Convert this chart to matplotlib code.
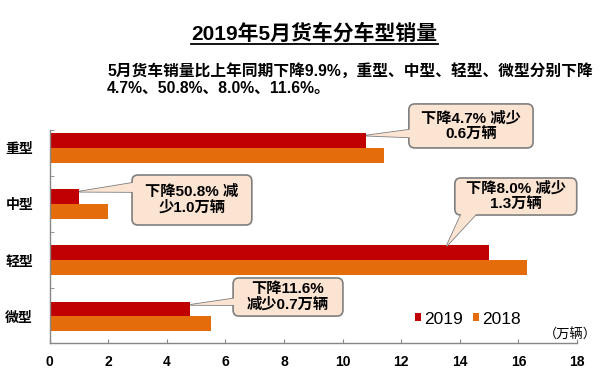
import numpy as np
import matplotlib
matplotlib.use("Agg")
import matplotlib.pyplot as plt
from matplotlib.patches import FancyBboxPatch, Polygon
from matplotlib.lines import Line2D
from matplotlib.transforms import IdentityTransform

plt.rcParams['font.family'] = ['Liberation Sans', 'Noto Sans CJK SC']

# ---------------- data ----------------
categories = ["重型", "中型", "轻型", "微型"]
sales_2019 = [10.8, 1.0, 15.0, 4.8]
sales_2018 = [11.4, 2.0, 16.3, 5.5]
years = ["2019", "2018"]
x_ticks = [0, 2, 4, 6, 8, 10, 12, 14, 16, 18]

title = "2019年5月货车分车型销量"
subtitle = ["5月货车销量比上年同期下降9.9%，重型、中型、轻型、微型分别下降",
            "4.7%、50.8%、8.0%、11.6%。"]
notes = ["下降4.7% 减少\n0.6万辆",
         "下降50.8% 减\n少1.0万辆",
         "下降8.0% 减少\n1.3万辆",
         "下降11.6%\n减少0.7万辆"]

RED = "#C00000"
ORANGE = "#E46C0A"
BOX_FC = "#FCE4D3"
BOX_EC = "#7F7F7F"
AXIS_C = "#868686"

W, H = 600, 373
fig = plt.figure(figsize=(6, 3.73), dpi=100)
ax = fig.add_axes([49.7 / W, 30 / H, (577 - 49.7) / W, (343 - 130) / H])

# ---------------- bars ----------------
y = np.arange(len(categories))
bh = 0.26
b19 = ax.barh(y - bh / 2, sales_2019, height=bh, color=RED, label=years[0], zorder=2)
b18 = ax.barh(y + bh / 2, sales_2018, height=bh, color=ORANGE, label=years[1], zorder=2)

ax.set_xlim(0, 18)
ax.set_ylim(3.48, -0.32)

for s in ["top", "right"]:
    ax.spines[s].set_visible(False)
for s in ["left", "bottom"]:
    ax.spines[s].set_color(AXIS_C)
    ax.spines[s].set_linewidth(1.0)

ax.set_xticks(x_ticks)
ax.set_xticklabels([str(t) for t in x_ticks], fontsize=10, fontweight="bold")
ax.tick_params(axis="x", direction="in", length=3, color=AXIS_C, pad=9)

ax.set_yticks(y)
ax.set_yticklabels(categories, fontsize=10, fontweight="bold")
ax.tick_params(axis="y", which="major", length=0, pad=12)
ax.set_yticks([-0.32, 0.5, 1.5, 2.5], minor=True)
ax.tick_params(axis="y", which="minor", direction="in", length=3, color=AXIS_C)

# ---------------- title / subtitle ----------------
t = fig.text(314.5 / W, 1 - 34 / H, title, ha="center", va="center",
             fontsize=15, fontweight="bold")
fig.text(107 / W, 1 - 71 / H, subtitle[0], ha="left", va="center",
         fontsize=11.3, fontweight="bold")
fig.text(107 / W, 1 - 88 / H, subtitle[1], ha="left", va="center",
         fontsize=11.3, fontweight="bold")

# underline for title
fig.canvas.draw()
bb = t.get_window_extent()
uy = H - 43.5
fig.add_artist(Line2D([bb.x0, bb.x1], [uy, uy], color="black", lw=1.3,
                      transform=IdentityTransform()))

# ---------------- legend / unit ----------------
ax.legend(handles=[b19, b18], labels=years, loc="center left",
          bbox_to_anchor=(415 / W, 1 - 319 / H), bbox_transform=fig.transFigure,
          ncol=2, frameon=False, fontsize=12.5, handlelength=0.32, handleheight=0.32,
          handletextpad=0.2, columnspacing=0.6, borderpad=0, borderaxespad=0)
fig.text(570 / W, 1 - 335 / H, "（万辆）", ha="center", va="center", fontsize=9.5)


# ---------------- callouts ----------------
def callout(text, box, tip, base):
    x0, x1, y0, y1 = box
    (ax0, ay0), (ax1, ay1) = ax.transData.transform([(x0, y0), (x1, y1)])
    left, right = min(ax0, ax1), max(ax0, ax1)
    bottom, top = min(ay0, ay1), max(ay0, ay1)
    w, h = right - left, top - bottom
    tx, ty = ax.transData.transform(tip)
    pts = [(left + fx * w, top - fy * h) for fx, fy in base] + [(tx, ty)]

    # wedge outline under the box, wedge fill over it -> one joined shape
    fig.add_artist(Polygon(pts, closed=True, fc=BOX_FC, ec=BOX_EC, lw=1.2,
                           transform=IdentityTransform(), zorder=4))
    fig.add_artist(FancyBboxPatch((left, bottom), w, h,
                                  boxstyle="round,pad=0,rounding_size=6",
                                  fc=BOX_FC, ec=BOX_EC, lw=1.2,
                                  transform=IdentityTransform(), zorder=5))
    fig.add_artist(Polygon(pts, closed=True, fc=BOX_FC, ec="none",
                           transform=IdentityTransform(), zorder=6))
    cx, cy = fig.transFigure.inverted().transform(((left + right) / 2, (top + bottom) / 2))
    fig.text(cx, cy, text, ha="center", va="center", fontsize=11,
             fontweight="bold", linespacing=1.1, zorder=7)


callout(notes[0], (12.26, 16.50, -0.785, 0.0),
        (sales_2019[0], 0 - 0.22), [(0.1, 0.55), (0.1, 0.77)])
callout(notes[1], (2.81, 6.90, 0.483, 1.375),
        (sales_2019[1], 1 - 0.22), [(0.1, 0.12), (0.1, 0.34)])
callout(notes[2], (13.83, 17.99, 0.536, 1.197),
        (sales_2019[2] - 1.45, 2 - 0.25), [(0.07, 0.85), (0.21, 0.85)])
callout(notes[3], (6.26, 10.01, 2.32, 3.0),
        (sales_2019[3], 3 - 0.20), [(0.1, 0.5), (0.1, 0.71)])

fig.savefig("out.png", dpi=100)
